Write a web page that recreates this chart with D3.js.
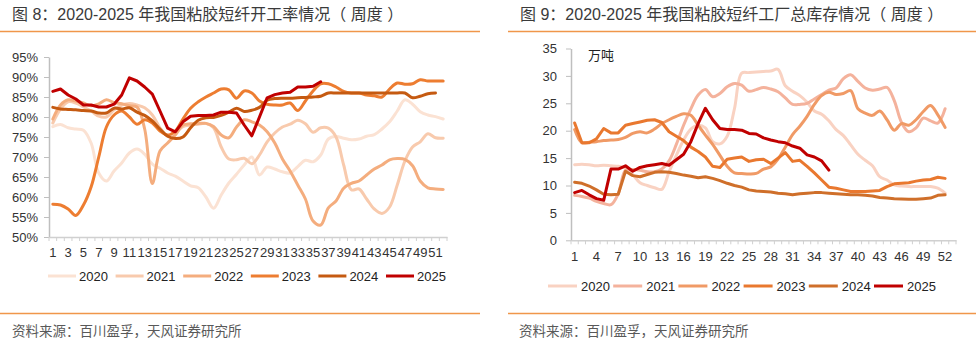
<!DOCTYPE html>
<html><head><meta charset="utf-8">
<script src="https://cdn.jsdelivr.net/npm/d3@7"></script>
<style>
body{margin:0;background:#fff;}
svg{display:block;font-family:"Liberation Sans",Arial,"Noto Sans CJK SC",sans-serif;}
</style></head><body>
<svg id="c" width="976" height="338"></svg>
<script>
// ---------------- DATA ----------------
const years = ["2020","2021","2022","2023","2024","2025"];
const weeksLeft = d3.range(1, 53);   // 1..52
const weeksRight = d3.range(1, 54);  // 1..53
const rateTickValues = [50,55,60,65,70,75,80,85,90,95];
const invTickValues = [0,5,10,15,20,25,30,35];
const leftLabelWeeks = d3.range(1, 53, 2);   // 1,3,...,51
const rightLabelWeeks = d3.range(1, 53, 3);  // 1,4,...,52

// 开工率 (%)
const rate2020 = [77.6,78.1,77.3,77,76.7,73.5,66,64,66.5,68.5,71,72,70.7,68.2,67.2,66,65.2,64,62.8,62.3,60,57.2,60.5,63.5,65.7,68,70,65.5,67.5,67,66.3,66,67.6,69.2,68.8,70.5,74.5,75.1,74.7,74.3,74.5,75.2,75.6,77,78.8,81.5,84.3,83.2,81.3,80.5,80.1,79.5];
const rate2021 = [78.5,82,83.8,83.5,82.5,81.5,80.2,80,81.8,83,83.4,83,82.3,80.5,77.3,75.3,76,77.6,78,78.2,78.4,77.3,72.5,69.5,69.3,69.7,68.3,70.5,73.8,76,77.5,78.2,79.2,78.3,76.2,77.3,77.2,75,68,61.8,62,59.5,57,55.9,57.5,63,69,72.5,73.8,75.8,74.8,74.7];
const rate2022 = [79.5,83,84.3,84,83.5,82.8,83.3,84.3,83.6,83.3,82.8,82.5,77,63.4,71.5,73.5,75.5,78,78.3,78.4,78.4,77.6,75.5,74.8,77.5,79.3,78.8,78,76.3,73.5,69.5,66.5,63,59.5,54,53,57.3,59,62.2,63.4,64,65.5,67,68,69.3,69.6,69.4,67.8,64,62.3,62,61.9];
const rate2023 = [58.2,58,57,55.4,58,62.5,70,77.5,80.5,81.5,80,78.2,79.3,78.5,76.5,75.5,76.5,79.5,82.2,83.8,85,86,87,86.8,84.7,86.5,86,84,83.2,83,83,83.5,81.6,84,86.5,88.3,88.3,87.5,86.4,86,86,85.5,85.3,85,87,88.5,88.2,88.3,89.3,89,89,89];
const rate2024 = [82.4,82,81.9,81.8,81.6,81.5,81,81,82.2,82,82.3,81.2,80.4,79,77,75.2,74.6,75,77.3,79.2,79.8,79.9,80.4,81.2,82.2,81.4,81.7,82.4,84.2,84.6,84.7,84.7,84.8,84.9,85,85.2,86,86,86,86,86,86,86,86,86,86,86,84.8,85.2,85.8,86];
const rate2025 = [86.4,87,85.5,84.5,83,83,82.5,82.5,83.2,85.5,89.8,89,87.5,85.7,81.5,77.2,76.3,78.8,80.2,80.4,80.4,80.5,81.2,81.2,81,78,75.3,80,84.8,85.6,86,86.2,87.5,87.5,87.7,88.8];

// 总库存 (万吨)
const inv2020 = [13.8,13.9,13.8,13.6,13.7,13.6,13.5,13.2,12,10.5,10,9.6,9.3,12.5,15.5,18.3,20.3,21,20.5,18,17.6,19,24,30.5,30.6,30.7,30.8,30.9,31.2,28.2,27.2,26.4,25.2,23.6,23,21.8,20.2,19.1,17.4,15.7,14.6,13.6,11.6,11,10.1,9.9,9.8,9.8,9.8,9.8,9.5,8.6];
const inv2021 = [8.2,8,7.7,7.1,6.7,6.5,8.5,12.8,12.9,12.8,12.5,12.5,13,14.5,17.5,21,24,26.5,27.5,26.2,26.8,28,28.6,28.3,27.2,27.5,27.9,27.6,27.1,26,24.8,24.8,25,25.8,26.6,27.4,27.8,29.5,30.2,29,27.8,27.4,27.6,27.9,25.5,21.5,19.8,20.5,22.3,21.8,21.4,24];
const inv2022 = [20.2,17.8,17.9,18,18.2,18.3,18.4,18.8,19.5,19.8,19.6,20.3,21.3,22,22.6,23.1,22.8,21,19.2,17.5,15.5,13.5,12.3,12.2,12.1,12.2,13,13.4,14.8,17,19.3,20.8,22.6,24.8,26.4,27,26.6,26.8,27.3,24,23.2,22.8,23.6,22,20.1,21.3,21,22,23.5,24.6,22.9,20.6];
const inv2023 = [21.4,17.8,17.8,18.5,20.4,19.6,19.6,21,21.3,21.6,21.9,22,21.5,19.8,19,18.2,17,16.2,15.2,13.5,13.3,14.8,15,15.2,14.4,14.7,14.8,14,15,16,14.4,14.6,13.5,12.3,11,9.7,9.5,9.2,8.9,8.9,8.9,9,9.1,9.8,10.3,10.4,10.5,10.8,11,11.1,11.5,11.3];
const inv2024 = [10.6,10.4,9.9,9.2,8.4,8.3,8.4,12.6,11.8,11.6,12,12.4,12.5,12.4,12.2,11.9,11.7,11.4,11.6,11.3,10.9,10.4,10,9.7,9.2,9,8.9,8.8,8.6,8.5,8.3,8.5,8.6,8.7,8.7,8.6,8.5,8.4,8.3,8.3,8.2,8.1,7.8,7.7,7.6,7.55,7.5,7.5,7.6,7.7,8.2,8.3];
const inv2025 = [8.7,9.1,8.3,7.6,7.3,13,13,13.6,12.6,13.3,13.6,13.8,14,13.7,14.7,15.7,18,21.3,24.1,22,20.4,20.2,20.2,20.1,19.5,19.4,18.7,18.3,18,17.8,17.2,16.8,15.6,15.2,14.5,12.8];

// ---------------- DRAW ----------------
const svg = d3.select("#c");
const smooth = d3.curveCatmullRom.alpha(0.5);

function drawPanel(o) {
  const g = svg.append("g");
  const x = d3.scaleBand().domain(o.cats).range([o.left, o.right]).padding(0);
  const y = d3.scaleLinear().domain(o.domain).range([o.bottom, o.top]);

  g.append("text").attr("x", o.titleX).attr("y", 20)
    .attr("font-size", 16).attr("fill", "#3a3a3a")
    .attr("font-family", "'Liberation Sans','Noto Sans CJK SC',sans-serif")
    .text(o.title);
  [31.5, 313.5].forEach(yy => g.append("line")
    .attr("x1", o.ruleX0).attr("x2", o.ruleX1).attr("y1", yy).attr("y2", yy)
    .attr("stroke", "#f0964a").attr("stroke-width", 1.3));

  // y axis
  const ya = g.append("g").attr("transform", `translate(${o.left},0)`)
    .call(d3.axisLeft(y).tickValues(o.yTicks).tickFormat(o.fmt)
      .tickSize(5).tickSizeOuter(0).tickPadding(o.yPad));
  ya.select(".domain").attr("stroke", "#bfbfbf").attr("stroke-width", 1.5);
  ya.selectAll(".tick line").attr("stroke", "#bfbfbf");
  ya.selectAll("text").attr("font-size", 13).attr("fill", "#333")
    .attr("font-family", "'Liberation Sans',Arial,sans-serif");

  // x axis
  const xa = g.append("g").attr("transform", `translate(0,${o.bottom})`)
    .call(d3.axisBottom(x).tickValues(o.xLabels).tickSize(0).tickSizeOuter(0).tickPadding(11));
  xa.select(".domain").attr("stroke", "#d0d0d0").attr("stroke-width", 1.5);
  xa.selectAll("text").attr("font-size", 13).attr("fill", "#333")
    .attr("font-family", "'Liberation Sans',Arial,sans-serif");
  const bounds = o.cats.map(c => x(c)).concat([x.range()[1]]);
  g.append("g").selectAll("line").data(bounds).join("line")
    .attr("x1", d => d).attr("x2", d => d)
    .attr("y1", o.bottom).attr("y2", o.bottom + 4)
    .attr("stroke", "#d0d0d0").attr("stroke-width", 1);

  // series
  o.series.forEach((s, i) => {
    const line = d3.line()
      .x((d, j) => x(o.cats[j]) + x.bandwidth() / 2)
      .y(d => y(d))
      .curve(o.curves[i]);
    g.append("path").datum(s).attr("d", line)
      .attr("fill", "none").attr("stroke", o.colors[i])
      .attr("stroke-width", 3).attr("stroke-linejoin", "round").attr("stroke-linecap", "round");
  });

  if (o.unit) {
    g.append("text").attr("x", o.unitX).attr("y", 60).attr("font-size", 13)
      .attr("fill", "#222").attr("font-family", "'Noto Sans CJK SC',sans-serif").text(o.unit);
  }

  // legend
  years.forEach((yr, i) => {
    const lx = o.legX + i * o.legStep;
    g.append("line").attr("x1", lx).attr("x2", lx + o.legLen)
      .attr("y1", o.legY).attr("y2", o.legY)
      .attr("stroke", o.colors[i]).attr("stroke-width", 3);
    g.append("text").attr("x", lx + o.legText).attr("y", o.legY).attr("dy", "0.36em")
      .attr("font-size", 13).attr("fill", "#222").text(yr);
  });

  g.append("text").attr("x", o.srcX).attr("y", 335.5).attr("font-size", 13.5)
    .attr("fill", "#595959").attr("font-family", "'Noto Sans CJK SC',sans-serif")
    .text("资料来源：百川盈孚，天风证券研究所");
}

drawPanel({
  cats: weeksLeft, left: 49, right: 447, top: 57, bottom: 237,
  domain: [50, 95], yTicks: rateTickValues, fmt: d => d + "%", yPad: 6,
  xLabels: leftLabelWeeks,
  series: [rate2020, rate2021, rate2022, rate2023, rate2024, rate2025],
  colors: ["#fbe2d3", "#f8caad", "#f4ad7e", "#ed7d31", "#c55a11", "#c00000"],
  curves: [smooth, smooth, smooth, smooth, smooth, d3.curveLinear],
  title: "图 8：2020-2025 年我国粘胶短纤开工率情况（ 周度 ）", titleX: 12,
  ruleX0: 0, ruleX1: 480,
  legX: 48, legStep: 67.6, legLen: 28, legText: 31, legY: 276,
  srcX: 12
});

drawPanel({
  cats: weeksRight, left: 571, right: 956, top: 48.5, bottom: 240.3,
  domain: [0, 35], yTicks: invTickValues, fmt: d => d, yPad: 9,
  xLabels: rightLabelWeeks,
  series: [inv2020, inv2021, inv2022, inv2023, inv2024, inv2025],
  colors: ["#f9d2c2", "#f4b29c", "#f09a66", "#e9782f", "#cf6f2a", "#c00000"],
  curves: [smooth, smooth, smooth, d3.curveLinear, d3.curveLinear, d3.curveLinear],
  title: "图 9：2020-2025 年我国粘胶短纤工厂总库存情况（ 周度 ）", titleX: 520,
  ruleX0: 508, ruleX1: 976,
  unit: "万吨", unitX: 588,
  legX: 548, legStep: 65.2, legLen: 29, legText: 33, legY: 286,
  srcX: 519
});
</script>
</body></html>
